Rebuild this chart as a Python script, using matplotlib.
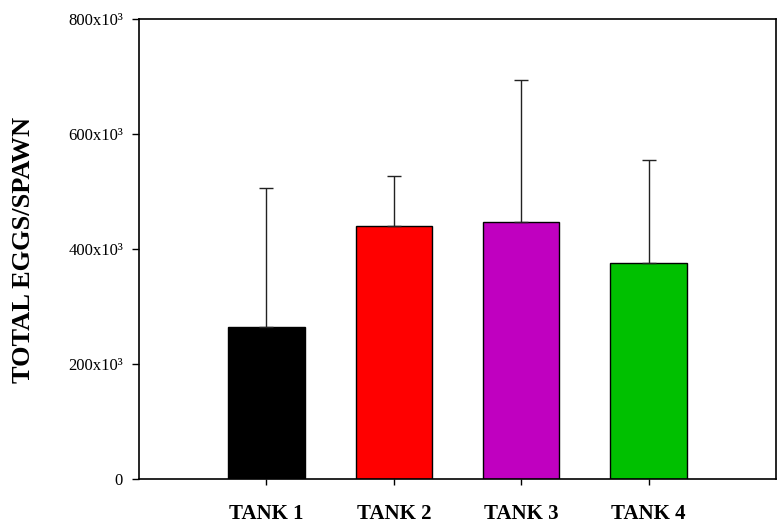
import matplotlib
matplotlib.use("Agg")
import matplotlib.pyplot as plt
import numpy as np

categories = ["TANK 1", "TANK 2", "TANK 3", "TANK 4"]
means = [264000, 440000, 447000, 376000]
err_upper = [242000, 87000, 247000, 179000]
colors = ["#000000", "#FF0000", "#C000C0", "#00C000"]
ytick_values = [0, 200000, 400000, 600000, 800000]
ytick_labels = ["0", "200x10³", "400x10³", "600x10³", "800x10³"]

plt.rcParams['font.family'] = ['Liberation Serif', 'DejaVu Serif']

fig = plt.figure(figsize=(7.79, 5.26), dpi=100)
ax = fig.add_axes([139/779, 47/526, (776-139)/779, (479-19)/526])

x = np.arange(len(categories))
ax.bar(x, means, width=0.6, color=colors, edgecolor="black", linewidth=1.0, zorder=2)
ax.errorbar(x, means, yerr=[np.zeros(len(means)), err_upper], fmt="none",
            ecolor="#222222", elinewidth=1.0, capsize=4.7, capthick=1.0, zorder=3)

ax.set_xlim(-1, 4)
ax.set_ylim(0, 800000)
ax.set_xticks(x)
ax.set_xticklabels(categories, fontsize=15, fontweight="bold")
ax.set_yticks(ytick_values)
ax.set_yticklabels(ytick_labels, fontsize=12)
ax.tick_params(axis="y", direction="out", length=5, width=1.0, pad=6.5)
ax.tick_params(axis="x", direction="out", length=4, width=1.0, pad=14)
ax.tick_params(top=False, right=False)
for s in ax.spines.values():
    s.set_linewidth(1.2)
    s.set_color("black")

fig.text(24/779, 1 - 250/526, "TOTAL EGGS/SPAWN", fontsize=19, fontweight="bold",
         rotation=90, ha="center", va="center")

fig.savefig("out.png", dpi=100)
